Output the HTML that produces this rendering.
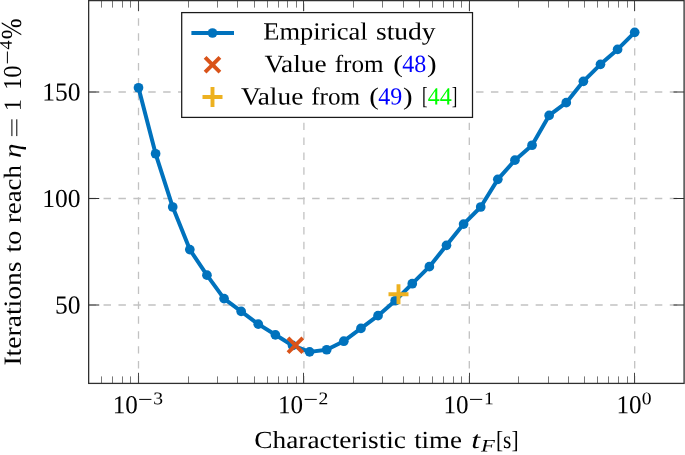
<!DOCTYPE html>
<html><head><meta charset="utf-8"><title>chart</title>
<style>html,body{margin:0;padding:0;background:#fff;}body{width:685px;height:455px;overflow:hidden;font-family:"Liberation Serif",serif;}</style>
</head><body>
<svg width="685" height="455" viewBox="0 0 685 455" style="display:block;will-change:transform;transform:translateZ(0)" font-family="'Liberation Serif', serif">
<rect width="685" height="455" fill="#fff"/>
<line x1="138.50" y1="383.4" x2="138.50" y2="0.6" stroke="#c2c2c2" stroke-width="1.3" stroke-dasharray="7.45 7.45"/>
<line x1="303.90" y1="383.4" x2="303.90" y2="0.6" stroke="#c2c2c2" stroke-width="1.3" stroke-dasharray="7.45 7.45"/>
<line x1="469.30" y1="383.4" x2="469.30" y2="0.6" stroke="#c2c2c2" stroke-width="1.3" stroke-dasharray="7.45 7.45"/>
<line x1="634.70" y1="383.4" x2="634.70" y2="0.6" stroke="#c2c2c2" stroke-width="1.3" stroke-dasharray="7.45 7.45"/>
<line x1="88.65" y1="305.00" x2="684.1" y2="305.00" stroke="#c2c2c2" stroke-width="1.3" stroke-dasharray="7.45 7.45"/>
<line x1="88.65" y1="198.50" x2="684.1" y2="198.50" stroke="#c2c2c2" stroke-width="1.3" stroke-dasharray="7.45 7.45"/>
<line x1="88.65" y1="92.00" x2="684.1" y2="92.00" stroke="#c2c2c2" stroke-width="1.3" stroke-dasharray="7.45 7.45"/>
<line x1="101.50" y1="383.4" x2="101.50" y2="376.4" stroke="#787878" stroke-width="1"/>
<line x1="101.50" y1="0.6" x2="101.50" y2="7.6" stroke="#787878" stroke-width="1"/>
<line x1="112.50" y1="383.4" x2="112.50" y2="376.4" stroke="#787878" stroke-width="1"/>
<line x1="112.50" y1="0.6" x2="112.50" y2="7.6" stroke="#787878" stroke-width="1"/>
<line x1="122.50" y1="383.4" x2="122.50" y2="376.4" stroke="#787878" stroke-width="1"/>
<line x1="122.50" y1="0.6" x2="122.50" y2="7.6" stroke="#787878" stroke-width="1"/>
<line x1="130.50" y1="383.4" x2="130.50" y2="376.4" stroke="#787878" stroke-width="1"/>
<line x1="130.50" y1="0.6" x2="130.50" y2="7.6" stroke="#787878" stroke-width="1"/>
<line x1="188.50" y1="383.4" x2="188.50" y2="376.4" stroke="#787878" stroke-width="1"/>
<line x1="188.50" y1="0.6" x2="188.50" y2="7.6" stroke="#787878" stroke-width="1"/>
<line x1="217.50" y1="383.4" x2="217.50" y2="376.4" stroke="#787878" stroke-width="1"/>
<line x1="217.50" y1="0.6" x2="217.50" y2="7.6" stroke="#787878" stroke-width="1"/>
<line x1="237.50" y1="383.4" x2="237.50" y2="376.4" stroke="#787878" stroke-width="1"/>
<line x1="237.50" y1="0.6" x2="237.50" y2="7.6" stroke="#787878" stroke-width="1"/>
<line x1="254.50" y1="383.4" x2="254.50" y2="376.4" stroke="#787878" stroke-width="1"/>
<line x1="254.50" y1="0.6" x2="254.50" y2="7.6" stroke="#787878" stroke-width="1"/>
<line x1="267.50" y1="383.4" x2="267.50" y2="376.4" stroke="#787878" stroke-width="1"/>
<line x1="267.50" y1="0.6" x2="267.50" y2="7.6" stroke="#787878" stroke-width="1"/>
<line x1="278.50" y1="383.4" x2="278.50" y2="376.4" stroke="#787878" stroke-width="1"/>
<line x1="278.50" y1="0.6" x2="278.50" y2="7.6" stroke="#787878" stroke-width="1"/>
<line x1="287.50" y1="383.4" x2="287.50" y2="376.4" stroke="#787878" stroke-width="1"/>
<line x1="287.50" y1="0.6" x2="287.50" y2="7.6" stroke="#787878" stroke-width="1"/>
<line x1="296.50" y1="383.4" x2="296.50" y2="376.4" stroke="#787878" stroke-width="1"/>
<line x1="296.50" y1="0.6" x2="296.50" y2="7.6" stroke="#787878" stroke-width="1"/>
<line x1="353.50" y1="383.4" x2="353.50" y2="376.4" stroke="#787878" stroke-width="1"/>
<line x1="353.50" y1="0.6" x2="353.50" y2="7.6" stroke="#787878" stroke-width="1"/>
<line x1="382.50" y1="383.4" x2="382.50" y2="376.4" stroke="#787878" stroke-width="1"/>
<line x1="382.50" y1="0.6" x2="382.50" y2="7.6" stroke="#787878" stroke-width="1"/>
<line x1="403.50" y1="383.4" x2="403.50" y2="376.4" stroke="#787878" stroke-width="1"/>
<line x1="403.50" y1="0.6" x2="403.50" y2="7.6" stroke="#787878" stroke-width="1"/>
<line x1="419.50" y1="383.4" x2="419.50" y2="376.4" stroke="#787878" stroke-width="1"/>
<line x1="419.50" y1="0.6" x2="419.50" y2="7.6" stroke="#787878" stroke-width="1"/>
<line x1="432.50" y1="383.4" x2="432.50" y2="376.4" stroke="#787878" stroke-width="1"/>
<line x1="432.50" y1="0.6" x2="432.50" y2="7.6" stroke="#787878" stroke-width="1"/>
<line x1="443.50" y1="383.4" x2="443.50" y2="376.4" stroke="#787878" stroke-width="1"/>
<line x1="443.50" y1="0.6" x2="443.50" y2="7.6" stroke="#787878" stroke-width="1"/>
<line x1="453.50" y1="383.4" x2="453.50" y2="376.4" stroke="#787878" stroke-width="1"/>
<line x1="453.50" y1="0.6" x2="453.50" y2="7.6" stroke="#787878" stroke-width="1"/>
<line x1="461.50" y1="383.4" x2="461.50" y2="376.4" stroke="#787878" stroke-width="1"/>
<line x1="461.50" y1="0.6" x2="461.50" y2="7.6" stroke="#787878" stroke-width="1"/>
<line x1="518.50" y1="383.4" x2="518.50" y2="376.4" stroke="#787878" stroke-width="1"/>
<line x1="518.50" y1="0.6" x2="518.50" y2="7.6" stroke="#787878" stroke-width="1"/>
<line x1="548.50" y1="383.4" x2="548.50" y2="376.4" stroke="#787878" stroke-width="1"/>
<line x1="548.50" y1="0.6" x2="548.50" y2="7.6" stroke="#787878" stroke-width="1"/>
<line x1="568.50" y1="383.4" x2="568.50" y2="376.4" stroke="#787878" stroke-width="1"/>
<line x1="568.50" y1="0.6" x2="568.50" y2="7.6" stroke="#787878" stroke-width="1"/>
<line x1="584.50" y1="383.4" x2="584.50" y2="376.4" stroke="#787878" stroke-width="1"/>
<line x1="584.50" y1="0.6" x2="584.50" y2="7.6" stroke="#787878" stroke-width="1"/>
<line x1="597.50" y1="383.4" x2="597.50" y2="376.4" stroke="#787878" stroke-width="1"/>
<line x1="597.50" y1="0.6" x2="597.50" y2="7.6" stroke="#787878" stroke-width="1"/>
<line x1="608.50" y1="383.4" x2="608.50" y2="376.4" stroke="#787878" stroke-width="1"/>
<line x1="608.50" y1="0.6" x2="608.50" y2="7.6" stroke="#787878" stroke-width="1"/>
<line x1="618.50" y1="383.4" x2="618.50" y2="376.4" stroke="#787878" stroke-width="1"/>
<line x1="618.50" y1="0.6" x2="618.50" y2="7.6" stroke="#787878" stroke-width="1"/>
<line x1="627.50" y1="383.4" x2="627.50" y2="376.4" stroke="#787878" stroke-width="1"/>
<line x1="627.50" y1="0.6" x2="627.50" y2="7.6" stroke="#787878" stroke-width="1"/>
<line x1="138.50" y1="383.4" x2="138.50" y2="372.79999999999995" stroke="#454545" stroke-width="1"/>
<line x1="138.50" y1="0.6" x2="138.50" y2="11.2" stroke="#454545" stroke-width="1"/>
<line x1="303.50" y1="383.4" x2="303.50" y2="372.79999999999995" stroke="#454545" stroke-width="1"/>
<line x1="303.50" y1="0.6" x2="303.50" y2="11.2" stroke="#454545" stroke-width="1"/>
<line x1="469.50" y1="383.4" x2="469.50" y2="372.79999999999995" stroke="#454545" stroke-width="1"/>
<line x1="469.50" y1="0.6" x2="469.50" y2="11.2" stroke="#454545" stroke-width="1"/>
<line x1="634.50" y1="383.4" x2="634.50" y2="372.79999999999995" stroke="#454545" stroke-width="1"/>
<line x1="634.50" y1="0.6" x2="634.50" y2="11.2" stroke="#454545" stroke-width="1"/>
<line x1="88.65" y1="305.00" x2="99.25" y2="305.00" stroke="#303030" stroke-width="1"/>
<line x1="684.1" y1="305.00" x2="673.5" y2="305.00" stroke="#303030" stroke-width="1"/>
<line x1="88.65" y1="198.50" x2="99.25" y2="198.50" stroke="#303030" stroke-width="1"/>
<line x1="684.1" y1="198.50" x2="673.5" y2="198.50" stroke="#303030" stroke-width="1"/>
<line x1="88.65" y1="92.00" x2="99.25" y2="92.00" stroke="#303030" stroke-width="1"/>
<line x1="684.1" y1="92.00" x2="673.5" y2="92.00" stroke="#303030" stroke-width="1"/>
<rect x="88.65" y="0.6" width="595.45" height="382.79999999999995" fill="none" stroke="#303030" stroke-width="1.3"/>
<polyline points="138.50,87.74 155.61,153.77 172.72,207.02 189.83,249.62 206.94,275.18 224.05,298.61 241.16,311.39 258.27,324.17 275.38,334.82 292.49,345.47 309.60,351.86 326.71,349.73 343.82,341.21 360.93,328.43 378.04,315.65 395.16,300.74 412.27,283.70 429.38,266.66 446.49,245.36 463.60,224.06 480.71,207.02 497.82,179.33 514.93,160.16 532.04,145.25 549.15,115.43 566.26,102.65 583.37,81.35 600.48,64.31 617.59,49.40 634.70,32.36" fill="none" stroke="#0072bd" stroke-width="4" stroke-linejoin="round"/>
<circle cx="138.50" cy="87.74" r="4.85" fill="#0072bd"/>
<circle cx="155.61" cy="153.77" r="4.85" fill="#0072bd"/>
<circle cx="172.72" cy="207.02" r="4.85" fill="#0072bd"/>
<circle cx="189.83" cy="249.62" r="4.85" fill="#0072bd"/>
<circle cx="206.94" cy="275.18" r="4.85" fill="#0072bd"/>
<circle cx="224.05" cy="298.61" r="4.85" fill="#0072bd"/>
<circle cx="241.16" cy="311.39" r="4.85" fill="#0072bd"/>
<circle cx="258.27" cy="324.17" r="4.85" fill="#0072bd"/>
<circle cx="275.38" cy="334.82" r="4.85" fill="#0072bd"/>
<circle cx="292.49" cy="345.47" r="4.85" fill="#0072bd"/>
<circle cx="309.60" cy="351.86" r="4.85" fill="#0072bd"/>
<circle cx="326.71" cy="349.73" r="4.85" fill="#0072bd"/>
<circle cx="343.82" cy="341.21" r="4.85" fill="#0072bd"/>
<circle cx="360.93" cy="328.43" r="4.85" fill="#0072bd"/>
<circle cx="378.04" cy="315.65" r="4.85" fill="#0072bd"/>
<circle cx="395.16" cy="300.74" r="4.85" fill="#0072bd"/>
<circle cx="412.27" cy="283.70" r="4.85" fill="#0072bd"/>
<circle cx="429.38" cy="266.66" r="4.85" fill="#0072bd"/>
<circle cx="446.49" cy="245.36" r="4.85" fill="#0072bd"/>
<circle cx="463.60" cy="224.06" r="4.85" fill="#0072bd"/>
<circle cx="480.71" cy="207.02" r="4.85" fill="#0072bd"/>
<circle cx="497.82" cy="179.33" r="4.85" fill="#0072bd"/>
<circle cx="514.93" cy="160.16" r="4.85" fill="#0072bd"/>
<circle cx="532.04" cy="145.25" r="4.85" fill="#0072bd"/>
<circle cx="549.15" cy="115.43" r="4.85" fill="#0072bd"/>
<circle cx="566.26" cy="102.65" r="4.85" fill="#0072bd"/>
<circle cx="583.37" cy="81.35" r="4.85" fill="#0072bd"/>
<circle cx="600.48" cy="64.31" r="4.85" fill="#0072bd"/>
<circle cx="617.59" cy="49.40" r="4.85" fill="#0072bd"/>
<circle cx="634.70" cy="32.36" r="4.85" fill="#0072bd"/>
<path d="M288.00 337.80L302.80 352.60M288.00 352.60L302.80 337.80" stroke="#d95319" stroke-width="3.9" fill="none"/>
<path d="M388.50 294.30L408.50 294.30M398.50 284.30L398.50 304.30" stroke="#edb120" stroke-width="3.9" fill="none"/>
<rect x="181.7" y="12.6" width="290.8" height="104.8" fill="#fff" stroke="#1a1a1a" stroke-width="1.25"/>
<line x1="191.4" y1="33.0" x2="234.0" y2="33.0" stroke="#0072bd" stroke-width="4"/>
<circle cx="212.5" cy="33.0" r="4.85" fill="#0072bd"/>
<path d="M205.10 57.40L219.90 72.20M205.10 72.20L219.90 57.40" stroke="#d95319" stroke-width="3.9" fill="none"/>
<path d="M202.50 97.00L222.50 97.00M212.50 87.00L212.50 107.00" stroke="#edb120" stroke-width="3.9" fill="none"/>
<text transform="translate(263.20 39.50) rotate(0.03)" font-size="24.65" fill="#000" text-anchor="start" textLength="104.5" lengthAdjust="spacingAndGlyphs">Empirical</text>
<text transform="translate(375.91 39.50) rotate(0.03)" font-size="24.65" fill="#000" text-anchor="start" textLength="59.7" lengthAdjust="spacingAndGlyphs">study</text>
<text transform="translate(264.40 71.90) rotate(0.03)" font-size="24.65" fill="#000" text-anchor="start" textLength="62.3" lengthAdjust="spacingAndGlyphs">Value</text>
<text transform="translate(334.63 71.90) rotate(0.03)" font-size="24.65" fill="#000" text-anchor="start" textLength="48.9" lengthAdjust="spacingAndGlyphs">from</text>
<text transform="translate(393.30 71.90) rotate(0.03)" font-size="24.65" fill="#000" text-anchor="start" textLength="9.6" lengthAdjust="spacingAndGlyphs">(</text>
<text transform="translate(402.30 71.90) rotate(0.03)" font-size="24.65" fill="#0000ff" text-anchor="start" textLength="24.0" lengthAdjust="spacingAndGlyphs">48</text>
<text transform="translate(426.90 71.90) rotate(0.03)" font-size="24.65" fill="#000" text-anchor="start" textLength="9.6" lengthAdjust="spacingAndGlyphs">)</text>
<text transform="translate(241.00 104.40) rotate(0.03)" font-size="24.65" fill="#000" text-anchor="start" textLength="62.3" lengthAdjust="spacingAndGlyphs">Value</text>
<text transform="translate(311.23 104.40) rotate(0.03)" font-size="24.65" fill="#000" text-anchor="start" textLength="48.9" lengthAdjust="spacingAndGlyphs">from</text>
<text transform="translate(369.30 104.40) rotate(0.03)" font-size="24.65" fill="#000" text-anchor="start" textLength="9.6" lengthAdjust="spacingAndGlyphs">(</text>
<text transform="translate(378.30 104.40) rotate(0.03)" font-size="24.65" fill="#0000ff" text-anchor="start" textLength="24.0" lengthAdjust="spacingAndGlyphs">49</text>
<text transform="translate(402.90 104.40) rotate(0.03)" font-size="24.65" fill="#000" text-anchor="start" textLength="9.6" lengthAdjust="spacingAndGlyphs">)</text>
<text transform="translate(422.00 104.40) rotate(0.03)" font-size="24.65" fill="#000" text-anchor="start" textLength="5.6" lengthAdjust="spacingAndGlyphs">[</text>
<text transform="translate(427.80 104.40) rotate(0.03)" font-size="24.65" fill="#00ff00" text-anchor="start" textLength="24.0" lengthAdjust="spacingAndGlyphs">44</text>
<text transform="translate(451.80 104.40) rotate(0.03)" font-size="24.65" fill="#000" text-anchor="start" textLength="5.6" lengthAdjust="spacingAndGlyphs">]</text>
<text transform="translate(54.99 313.60) rotate(0.03) scale(1 1.05)" font-size="24.65" fill="#000" text-anchor="start" textLength="25.5" lengthAdjust="spacingAndGlyphs">50</text>
<text transform="translate(42.23 207.10) rotate(0.03) scale(1 1.05)" font-size="24.65" fill="#000" text-anchor="start" textLength="38.3" lengthAdjust="spacingAndGlyphs">100</text>
<text transform="translate(42.23 100.60) rotate(0.03) scale(1 1.05)" font-size="24.65" fill="#000" text-anchor="start" textLength="38.3" lengthAdjust="spacingAndGlyphs">150</text>
<text transform="translate(112.65 413.30) rotate(0.03) scale(1 1.05)" font-size="24.65" fill="#000" text-anchor="start" textLength="25.1" lengthAdjust="spacingAndGlyphs">10</text>
<path d="M139.20 399.40H151.41" stroke="#000" stroke-width="1" fill="none"/>
<text transform="translate(153.21 404.30) rotate(0.03) scale(1 1.03)" font-size="17.3" fill="#000" text-anchor="start" textLength="9.8" lengthAdjust="spacingAndGlyphs">3</text>
<text transform="translate(278.05 413.30) rotate(0.03) scale(1 1.05)" font-size="24.65" fill="#000" text-anchor="start" textLength="25.1" lengthAdjust="spacingAndGlyphs">10</text>
<path d="M304.60 399.40H316.81" stroke="#000" stroke-width="1" fill="none"/>
<text transform="translate(318.61 404.30) rotate(0.03) scale(1 1.03)" font-size="17.3" fill="#000" text-anchor="start" textLength="9.8" lengthAdjust="spacingAndGlyphs">2</text>
<text transform="translate(443.45 413.30) rotate(0.03) scale(1 1.05)" font-size="24.65" fill="#000" text-anchor="start" textLength="25.1" lengthAdjust="spacingAndGlyphs">10</text>
<path d="M470.00 399.40H482.21" stroke="#000" stroke-width="1" fill="none"/>
<text transform="translate(484.01 404.30) rotate(0.03) scale(1 1.03)" font-size="17.3" fill="#000" text-anchor="start" textLength="9.8" lengthAdjust="spacingAndGlyphs">1</text>
<text transform="translate(616.56 413.30) rotate(0.03) scale(1 1.05)" font-size="24.65" fill="#000" text-anchor="start" textLength="25.1" lengthAdjust="spacingAndGlyphs">10</text>
<text transform="translate(641.71 404.30) rotate(0.03) scale(1 1.03)" font-size="17.3" fill="#000" text-anchor="start" textLength="9.8" lengthAdjust="spacingAndGlyphs">0</text>
<text transform="translate(254.30 448.00) rotate(0.03)" font-size="24.65" fill="#000" text-anchor="start" textLength="151.7" lengthAdjust="spacingAndGlyphs">Characteristic</text>
<text transform="translate(414.13 448.00) rotate(0.03)" font-size="24.65" fill="#000" text-anchor="start" textLength="47.9" lengthAdjust="spacingAndGlyphs">time</text>
<text transform="translate(471.27 448.00) rotate(0.03)" font-size="24.65" fill="#000" text-anchor="start" textLength="8.9" lengthAdjust="spacingAndGlyphs" font-style="italic">t</text>
<text transform="translate(480.89 451.60) rotate(0.03)" font-size="17.6" fill="#000" text-anchor="start" textLength="13.8" lengthAdjust="spacingAndGlyphs" font-style="italic">F</text>
<text transform="translate(495.94 448.00) rotate(0.03)" font-size="24.65" fill="#000" text-anchor="start" textLength="22.6" lengthAdjust="spacingAndGlyphs">[s]</text>
<g transform="translate(20.8,365.0) rotate(-90)">
<text transform="translate(-0.60 0.00) rotate(0.03)" font-size="24.65" fill="#000" text-anchor="start" textLength="104.2" lengthAdjust="spacingAndGlyphs">Iterations</text>
<text transform="translate(112.50 0.00) rotate(0.03)" font-size="24.65" fill="#000" text-anchor="start" textLength="21.9" lengthAdjust="spacingAndGlyphs">to</text>
<text transform="translate(141.90 0.00) rotate(0.03)" font-size="24.65" fill="#000" text-anchor="start" textLength="58.0" lengthAdjust="spacingAndGlyphs">reach</text>
<text transform="translate(207.00 0.00) rotate(0.03)" font-size="24.65" fill="#000" text-anchor="start" textLength="14.4" lengthAdjust="spacingAndGlyphs" font-style="italic">η</text>
<path d="M228.9 -4.0H245.7M228.9 -8.9H245.7" stroke="#000" stroke-width="1" fill="none"/>
<text transform="translate(253.70 0.00) rotate(0.03)" font-size="24.65" fill="#000" text-anchor="start" textLength="12.3" lengthAdjust="spacingAndGlyphs">1</text>
<text transform="translate(274.90 0.20) rotate(0.03) scale(1 1.05)" font-size="24.65" fill="#000" text-anchor="start" textLength="24.6" lengthAdjust="spacingAndGlyphs">10</text>
<path d="M301.6 -13.4H313.5" stroke="#000" stroke-width="1" fill="none"/>
<text transform="translate(315.41 -9.00) rotate(0.03) scale(1 1.03)" font-size="17.3" fill="#000" text-anchor="start" textLength="9.1" lengthAdjust="spacingAndGlyphs">4</text>
<text transform="translate(325.80 0.50) rotate(0.03)" font-size="29.0" fill="#000" text-anchor="start" textLength="20.8" lengthAdjust="spacingAndGlyphs">%</text>
</g>
</svg>
</body></html>
